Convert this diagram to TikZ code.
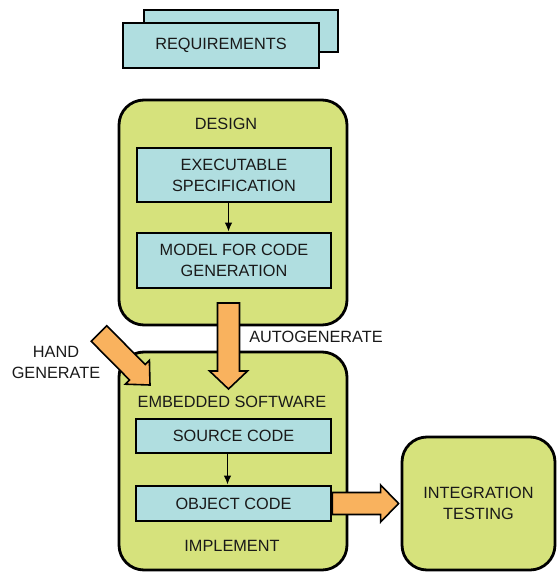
\documentclass[tikz,border=0pt]{standalone}
\usepackage{fontspec}
\setmainfont{Liberation Sans}
\usetikzlibrary{calc,arrows.meta}

\definecolor{leaf}{RGB}{214,226,124}
\definecolor{aqua}{RGB}{176,222,224}
\definecolor{amber}{RGB}{249,178,94}
\definecolor{ink}{RGB}{25,25,25}

\tikzset{
  labelfont/.style={font=\fontsize{16.3}{21}\selectfont, text=ink},
  stage/.style={draw=black, line width=2.8pt, fill=leaf, rounded corners=25pt,
    inner sep=0pt, align=center, labelfont},
  item/.style={draw=black, line width=2.8pt, fill=aqua, inner sep=0pt,
    align=center, labelfont},
  caption/.style={inner sep=0pt, align=center, labelfont},
  flow/.style={line width=1.4pt, -{Latex[length=9pt,width=7.5pt]}},
  fat/.style={draw=black, line width=1.6pt, fill=amber, line join=miter},
}

% broad block arrow: #1 start, #2 tip, #3 half shaft width,
% #4 half head width, #5 head length
\newcommand\fatarrow[5]{%
  \coordinate (fa base) at ($(#2)!#5!(#1)$);
  \draw[fat] ($(#1)!#3!90:(#2)$) -- ($(fa base)!#3!90:(#2)$)
    -- ($(fa base)!#4!90:(#2)$) -- (#2)
    -- ($(fa base)!#4!-90:(#2)$) -- ($(fa base)!#3!-90:(#2)$)
    -- ($(#1)!#3!-90:(#2)$) -- cycle;}

\begin{document}
\begin{tikzpicture}[x=1pt,y=-1pt]
  \useasboundingbox (0,0) rectangle (556,572);

  % requirements stack
  \node[item, minimum width=194pt, minimum height=42pt] (reqback) at (241,31) {};
  \node[item, minimum width=196pt, minimum height=45pt] (req) at (221,45.5) {REQUIREMENTS};

  % stage containers
  \node[stage, minimum width=228pt, minimum height=225pt] (design) at (233,212.5) {};
  \node[stage, minimum width=228pt, minimum height=218pt] (embedded) at (233,461) {};
  \node[stage, minimum width=153pt, minimum height=133pt] (integ) at (478.5,503.5)
    {INTEGRATION\\TESTING};

  % stage titles
  \node[caption] (designlbl) at (226,124) {DESIGN};
  \node[caption] (embeddedlbl) at (232,402) {EMBEDDED SOFTWARE};
  \node[caption] (implementlbl) at (232,546) {IMPLEMENT};

  % inner steps
  \node[item, minimum width=194pt, minimum height=54pt] (exec) at (234,175)
    {EXECUTABLE\\SPECIFICATION};
  \node[item, minimum width=194pt, minimum height=55pt] (model) at (234,260.5)
    {MODEL FOR CODE\\GENERATION};
  \node[item, minimum width=195pt, minimum height=34pt] (source) at (233.5,436)
    {SOURCE CODE};
  \node[item, minimum width=195pt, minimum height=35pt] (object) at (233.5,503.5)
    {OBJECT CODE};

  % block arrow end points
  \coordinate (auto from) at (228.5,303);
  \coordinate (auto to) at (228.5,389);
  \coordinate (hand from) at (99,333.5);
  \coordinate (hand to) at (150,385);
  \coordinate (out to) at ($(integ.west)+(-2,0)$);

  % thin flow arrows
  \draw[flow] (exec.south -| auto from) -- (model.north -| auto from);
  \draw[flow] ($(source.south)+(-6,0)$) -- ($(object.north)+(-6,0)$);

  % block arrows
  \fatarrow{auto from}{auto to}{11pt}{19pt}{18pt}
  \fatarrow{hand from}{hand to}{11pt}{17pt}{18pt}
  \fatarrow{object.east}{out to}{11pt}{18.5pt}{18pt}

  % arrow captions
  \node[caption] (autolbl) at (316,337) {AUTOGENERATE};
  \node[caption] (handlbl) at (56,362.5) {HAND\\GENERATE};
\end{tikzpicture}
\end{document}
